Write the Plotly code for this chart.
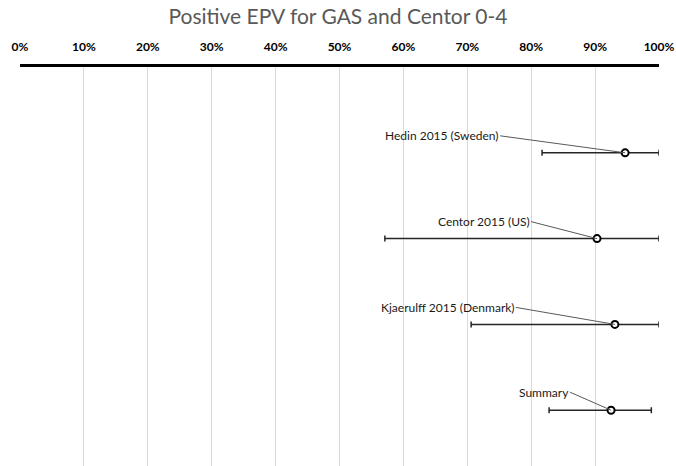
import plotly.graph_objects as go

# Study estimates (positive EPV, as fractions)
studies = ["Hedin 2015 (Sweden)", "Centor 2015 (US)", "Kjaerulff 2015 (Denmark)", "Summary"]
epv = [0.947, 0.903, 0.931, 0.925]
ci_low = [0.817, 0.571, 0.706, 0.828]
ci_high = [1.0, 1.0, 1.0, 0.988]
rows = [4, 3, 2, 1]

# label offsets (px) from each point
label_dx = [-125, -66, -99, -41]
label_dy = [-17, -17, -17, -18]

err_plus = [h - e for h, e in zip(ci_high, epv)]
err_minus = [e - l for e, l in zip(epv, ci_low)]

fig = go.Figure()
fig.add_trace(go.Scatter(
    x=epv, y=rows,
    mode="markers",
    marker=dict(symbol="circle", size=7, color="white",
                line=dict(color="black", width=2)),
    error_x=dict(type="data", symmetric=False, array=err_plus, arrayminus=err_minus,
                 color="#262626", thickness=1.5, width=3),
    showlegend=False,
    hoverinfo="skip",
    cliponaxis=False,
))

for name, x, y, dx, dy in zip(studies, epv, rows, label_dx, label_dy):
    fig.add_annotation(
        x=x, y=y, text=name, showarrow=True, arrowhead=0, arrowwidth=1,
        arrowcolor="#595959", ax=dx, ay=dy, xanchor="right", yanchor="middle",
        font=dict(family="Lato, Open Sans, sans-serif", size=12, color="#1a1a1a"),
        borderpad=0,
    )

fig.update_layout(
    title=dict(text="Positive EPV for GAS and Centor 0-4", x=0.5, xanchor="center",
               y=0.98, yanchor="top",
               font=dict(family="Lato, Open Sans, sans-serif", size=21, color="#595959")),
    width=676, height=466,
    margin=dict(l=20, r=17, t=67, b=0),
    paper_bgcolor="white", plot_bgcolor="white",
    xaxis=dict(side="top", range=[0, 1], dtick=0.1, tickformat=".0%",
               showgrid=True, gridcolor="#d9d9d9", gridwidth=1,
               showline=True, linecolor="black", linewidth=3,
               zeroline=False, ticks="", ticklabelstandoff=8,
               ticklabeloverflow="allow",
               tickfont=dict(family="Lato, Open Sans, sans-serif", size=12,
                             color="black", weight="bold")),
    yaxis=dict(range=[0.35, 5], visible=False),
)

# drop the page's default body margin so the 676x466 figure fills the window
fig.write_html("out.html", config={"displayModeBar": False},
               post_script="document.body.style.margin='0';document.body.style.overflow='hidden';")
